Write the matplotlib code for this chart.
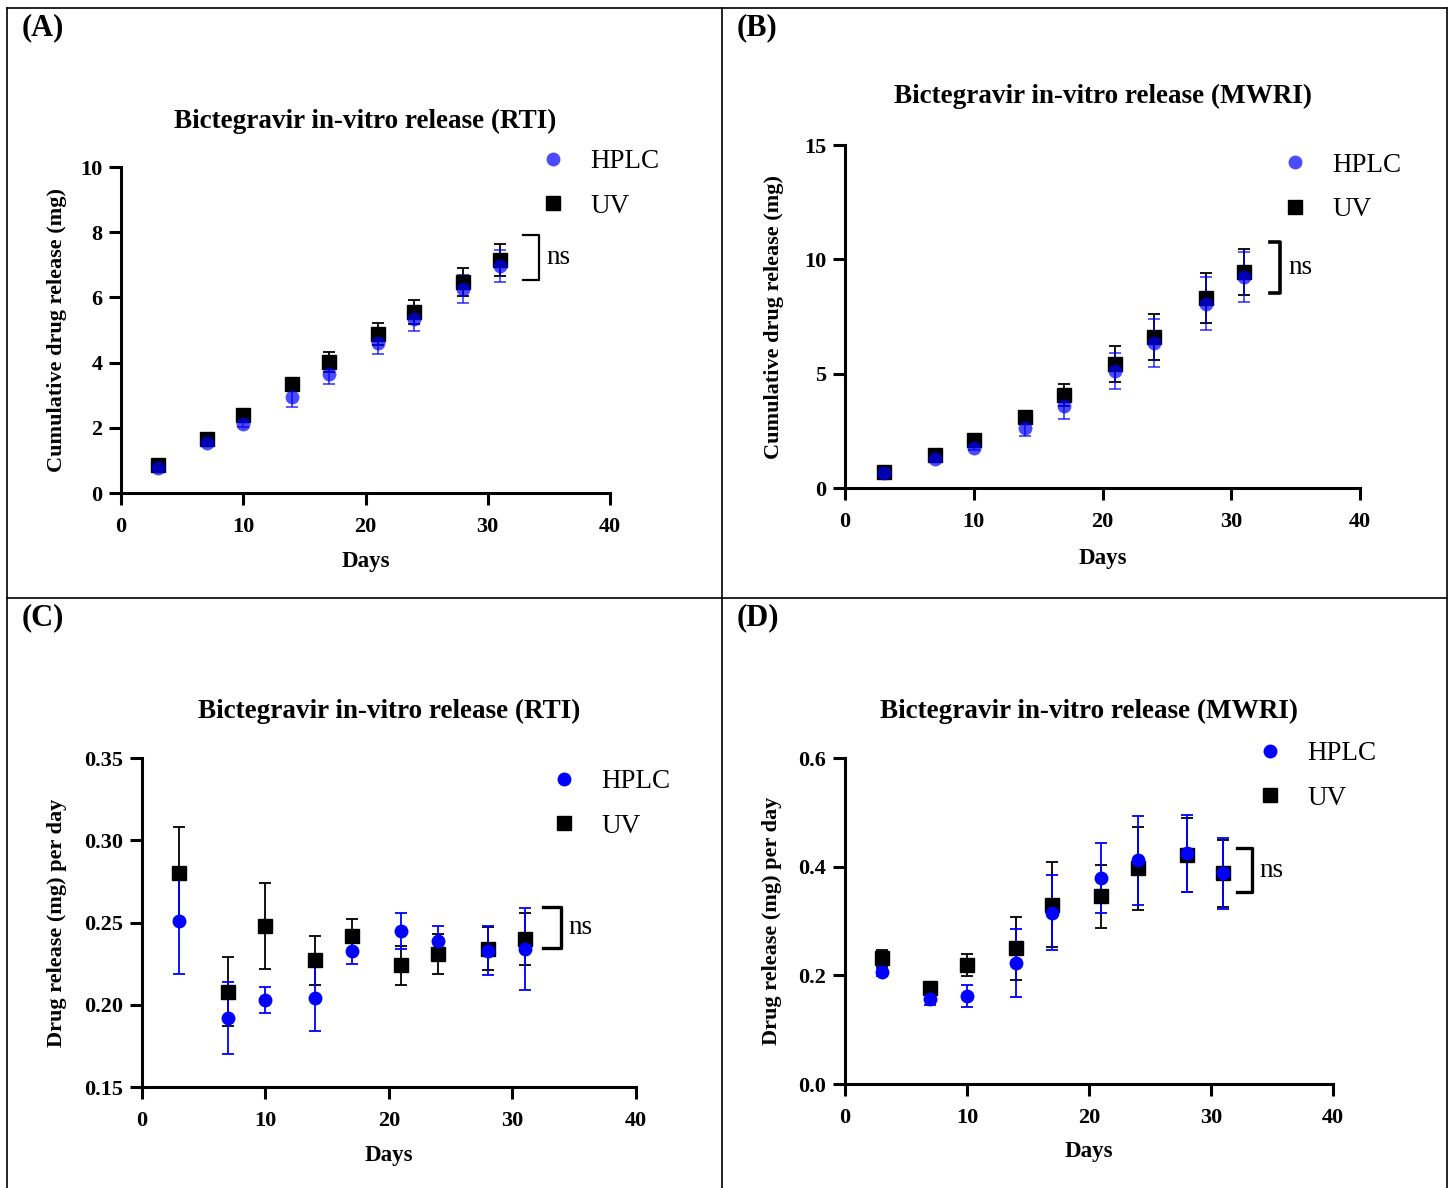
import matplotlib.pyplot as plt
from matplotlib.lines import Line2D

plt.rcParams['font.family'] = ['Liberation Serif', 'DejaVu Serif']

days = [3, 7, 10, 14, 17, 21, 24, 28, 31]

# (A) cumulative release, RTI
a_hplc = [0.78, 1.53, 2.12, 2.94, 3.65, 4.60, 5.34, 6.26, 6.96]
a_hplc_err = [0.05, 0.08, 0.10, 0.30, 0.30, 0.34, 0.37, 0.43, 0.50]
a_uv = [0.85, 1.66, 2.39, 3.34, 4.02, 4.88, 5.56, 6.47, 7.15]
a_uv_err = [0.05, 0.08, 0.10, 0.18, 0.30, 0.33, 0.36, 0.43, 0.50]

# (B) cumulative release, MWRI
b_hplc = [0.66, 1.27, 1.75, 2.62, 3.58, 5.12, 6.34, 8.05, 9.23]
b_hplc_err = [0.05, 0.08, 0.10, 0.35, 0.56, 0.80, 1.05, 1.16, 1.10]
b_uv = [0.72, 1.44, 2.10, 3.10, 4.07, 5.42, 6.60, 8.30, 9.44]
b_uv_err = [0.05, 0.08, 0.10, 0.20, 0.50, 0.77, 1.00, 1.10, 1.00]

# (C) release per day, RTI
c_hplc = [0.251, 0.192, 0.203, 0.204, 0.233, 0.245, 0.239, 0.233, 0.234]
c_hplc_err = [0.032, 0.022, 0.008, 0.020, 0.008, 0.011, 0.009, 0.015, 0.025]
c_uv = [0.280, 0.208, 0.248, 0.227, 0.242, 0.224, 0.231, 0.234, 0.240]
c_uv_err = [0.028, 0.021, 0.026, 0.015, 0.010, 0.012, 0.012, 0.013, 0.016]

# (D) release per day, MWRI
d_hplc = [0.206, 0.156, 0.162, 0.223, 0.315, 0.379, 0.412, 0.425, 0.388]
d_hplc_err = [0.008, 0.010, 0.020, 0.062, 0.069, 0.065, 0.082, 0.071, 0.065]
d_uv = [0.232, 0.177, 0.219, 0.250, 0.330, 0.346, 0.397, 0.421, 0.388]
d_uv_err = [0.014, 0.008, 0.020, 0.058, 0.078, 0.058, 0.077, 0.068, 0.062]

panels = [
    dict(tag='(A)', title='Bictegravir in-vitro release (RTI)', ylabel='Cumulative drug release (mg)',
         hplc=a_hplc, hplc_err=a_hplc_err, uv=a_uv, uv_err=a_uv_err,
         pos=[0.0833, 0.585, 0.3365, 0.2744], ylim=(0, 10), yticks=[0, 2, 4, 6, 8, 10], yfmt='{:g}',
         bracket=(32.9, 34.2, 6.53, 7.91), blw=1.6, alpha=0.7, leg=(0.856, 0.948), lab=(64, 46, 68)),
    dict(tag='(B)', title='Bictegravir in-vitro release (MWRI)', ylabel='Cumulative drug release (mg)',
         hplc=b_hplc, hplc_err=b_hplc_err, uv=b_uv, uv_err=b_uv_err,
         pos=[0.5816, 0.5892, 0.3544, 0.2887], ylim=(0, 15), yticks=[0, 5, 10, 15], yfmt='{:g}',
         bracket=(33.0, 33.8, 8.53, 10.76), blw=2.6, alpha=0.7, leg=(0.848, 0.876), lab=(71, 49, 70)),
    dict(tag='(C)', title='Bictegravir in-vitro release (RTI)', ylabel='Drug release (mg) per day',
         hplc=c_hplc, hplc_err=c_hplc_err, uv=c_uv, uv_err=c_uv_err,
         pos=[0.0977, 0.085, 0.34, 0.2769], ylim=(0.15, 0.35), yticks=[0.15, 0.20, 0.25, 0.30, 0.35],
         yfmt='{:.2f}', bracket=(32.5, 33.9, 0.2345, 0.2594), blw=2.4, alpha=1.0, leg=(0.827, 0.860),
         lab=(85, 47, 68)),
    dict(tag='(D)', title='Bictegravir in-vitro release (MWRI)', ylabel='Drug release (mg) per day',
         hplc=d_hplc, hplc_err=d_hplc_err, uv=d_uv, uv_err=d_uv_err,
         pos=[0.5816, 0.0875, 0.3358, 0.2744], ylim=(0, 0.6), yticks=[0.0, 0.2, 0.4, 0.6], yfmt='{:.1f}',
         bracket=(32.1, 33.4, 0.353, 0.434), blw=2.4, alpha=1.0, leg=(0.843, 0.945), lab=(73, 47, 67)),
]

fig = plt.figure(figsize=(14.53, 11.88), dpi=100)

# panel frames
W, H = 1453, 1188
frame = dict(color='black', lw=1.2, transform=fig.transFigure)
for xs, ys in [([7, 1447], [8, 8]), ([7, 7], [8, 1188]), ([1447, 1447], [8, 1188]),
               ([722, 722], [8, 1188]), ([7, 1447], [598, 598])]:
    fig.add_artist(Line2D([x / W for x in xs], [1 - y / H for y in ys], **frame))

tag_xy = [(22, 28), (737, 28), (22, 618), (737, 618)]

for p, (tx, ty) in zip(panels, tag_xy):
    ax = fig.add_axes(p['pos'])
    blue = (0, 0, 1, p['alpha'])
    wpx, hpx = p['pos'][2] * W, p['pos'][3] * H
    ax.errorbar(days, p['uv'], yerr=p['uv_err'], fmt='s', color='black', ms=9.5,
                ecolor='black', elinewidth=1.3, capsize=4.5, capthick=1.3, clip_on=False)
    ax.errorbar(days, p['hplc'], yerr=p['hplc_err'], fmt='o', color=blue, ms=10, mec='none',
                ecolor=blue, elinewidth=1.3, capsize=4.5, capthick=1.3, clip_on=False)

    ax.set_xlim(0, 40)
    ax.set_ylim(*p['ylim'])
    ax.set_xticks([0, 10, 20, 30, 40])
    ax.set_yticks(p['yticks'])
    ax.set_yticklabels([p['yfmt'].format(v) for v in p['yticks']])
    for s in ['top', 'right']:
        ax.spines[s].set_visible(False)
    for s in ['left', 'bottom']:
        ax.spines[s].set_linewidth(2.2)
    ax.tick_params(width=2.2, length=8.5, labelsize=16)
    ax.tick_params(axis='x', pad=8.5)
    ax.tick_params(axis='y', pad=5)
    for lab in ax.get_xticklabels() + ax.get_yticklabels():
        lab.set_fontweight('bold')

    ax.set_xlabel('Days', fontsize=16.5, fontweight='bold', va='center')
    ax.xaxis.set_label_coords(0.5, -p['lab'][2] / hpx)
    ax.set_ylabel(p['ylabel'], fontsize=16, fontweight='bold', va='center')
    ax.yaxis.set_label_coords(-p['lab'][0] / wpx, 0.5)
    ax.text(0.5, 1 + p['lab'][1] / hpx, p['title'], transform=ax.transAxes,
            ha='center', va='center', fontsize=19.5, fontweight='bold')

    # ns bracket
    x0, x1, y0, y1 = p['bracket']
    ax.plot([x0, x1, x1, x0], [y1, y1, y0, y0], color='black', lw=p['blw'], clip_on=False)
    ax.text(x1 + 0.6, (y0 + y1) / 2, 'ns', fontsize=19.5, ha='left', va='center')

    handles = [Line2D([], [], ls='none', marker='o', ms=10, color=blue, mec='none'),
               Line2D([], [], ls='none', marker='s', ms=9.5, color='black')]
    ax.legend(handles, ['HPLC', 'UV'], loc='center left', bbox_to_anchor=p['leg'], frameon=False,
              fontsize=19.5, handlelength=1, handletextpad=0.87, labelspacing=0.72,
              borderpad=0, borderaxespad=0)

    fig.text(tx / W, 1 - ty / H, p['tag'], fontsize=22, fontweight='bold', ha='left', va='center')

fig.savefig('out.png', dpi=100)
